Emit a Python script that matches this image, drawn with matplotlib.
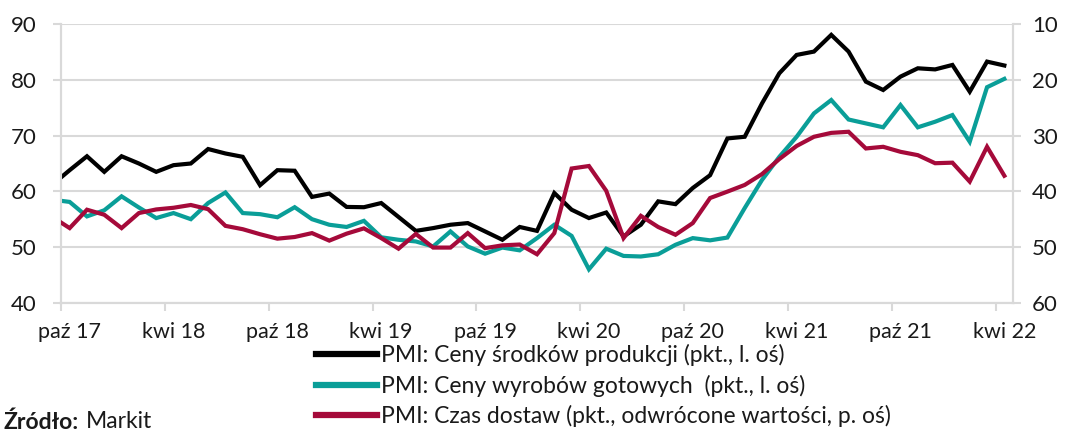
import matplotlib
matplotlib.use("Agg")
import matplotlib.pyplot as plt
import numpy as np
import pandas as pd

# ---- data (monthly, Sep 2017 .. Apr 2022; first point is clipped at left edge) ----
months = pd.date_range("2017-09-01", "2022-04-01", freq="MS")

ceny_srodkow = [61.2, 63.8, 66.3, 63.5, 66.3, 65.0, 63.5, 64.7, 65.0, 67.6,
                66.8, 66.2, 61.1, 63.8, 63.7, 59.0, 59.6, 57.2, 57.15, 57.9,
                55.4, 52.9, 53.4, 54.0, 54.3, 52.8, 51.3, 53.6, 52.9, 59.7,
                56.7, 55.2, 56.2, 51.9, 54.0, 58.2, 57.7, 60.6, 62.9, 69.5,
                69.8, 75.8, 81.2, 84.5, 85.1, 88.1, 85.1, 79.7, 78.2, 80.6,
                82.1, 81.9, 82.7, 77.9, 83.3, 82.6]

ceny_wyrobow = [58.5, 58.1, 55.5, 56.6, 59.1, 57.1, 55.2, 56.1, 55.0, 57.9,
                59.8, 56.1, 55.9, 55.35, 57.15, 55.0, 54.0, 53.6, 54.7, 51.75,
                51.3, 51.0, 50.1, 52.8, 50.1, 48.8, 49.9, 49.4, 51.6, 54.0,
                52.0, 46.0, 49.7, 48.4, 48.3, 48.7, 50.4, 51.6, 51.2, 51.7,
                57.0, 62.05, 66.2, 69.8, 74.0, 76.4, 72.9, 72.2, 71.5, 75.5,
                71.5, 72.5, 73.7, 68.9, 78.7, 80.2]

czas_dostaw = [44.6, 46.6, 43.3, 44.2, 46.6, 43.9, 43.25, 42.95, 42.45, 43.2,
               46.2, 46.8, 47.7, 48.5, 48.2, 47.5, 48.85, 47.6, 46.65, 48.4,
               50.3, 47.65, 50.1, 50.1, 47.5, 50.2, 49.7, 49.55, 51.3, 47.5,
               35.9, 35.45, 39.9, 48.4, 44.4, 46.4, 47.8, 45.7, 41.2, 40.05,
               38.85, 36.9, 34.2, 31.85, 30.2, 29.5, 29.3, 32.3, 32.0, 32.9,
               33.5, 34.95, 34.85, 38.25, 32.0, 37.2]

tick_labels = ["paź 17", "kwi 18", "paź 18", "kwi 19", "paź 19",
               "kwi 20", "paź 20", "kwi 21", "paź 21", "kwi 22"]

labels = ["PMI: Ceny środków produkcji (pkt., l. oś)",
          "PMI: Ceny wyrobów gotowych  (pkt., l. oś)",
          "PMI: Czas dostaw (pkt., odwrócone wartości, p. oś)"]

colors = ["#000000", "#0A9E98", "#A50A3A"]
grid_c = "#D9D9D9"
txt_c = "#1a1a1a"

plt.rcParams["font.family"] = ["Lato", "DejaVu Sans"]
FS_TICK = 15.5
FS_Y = 16.0
FS_LEG = 16.5

W, H = 1066, 433
fig = plt.figure(figsize=(W / 100, H / 100), dpi=100)
left, right, top, bottom = 61, 1013, 24.3, 302.7
ax = fig.add_axes([left / W, 1 - bottom / H, (right - left) / W, (bottom - top) / H])

# x positions: month index relative to Oct 2017, points at mid-month
x = np.arange(len(months)) - 1 + 0.5

l1, = ax.plot(x, ceny_srodkow, color=colors[0], lw=3.0, solid_joinstyle="miter", zorder=3)
l2, = ax.plot(x, ceny_wyrobow, color=colors[1], lw=3.0, solid_joinstyle="miter", zorder=3)
ax.set_xlim(0, 55)
ax.set_ylim(40, 90)
ax.set_yticks(np.arange(40, 91, 10))
ax.grid(axis="y", color=grid_c, lw=1.5, zorder=0)
ax.set_axisbelow(True)

ax2 = ax.twinx()
l3, = ax2.plot(x, czas_dostaw, color=colors[2], lw=3.0, solid_joinstyle="miter", zorder=3)
ax2.set_ylim(60, 10)
ax2.set_yticks(np.arange(10, 61, 10))
ax2.set_xlim(0, 55)

tick_pos = np.arange(0, 55, 6)
for a in (ax, ax2):
    a.spines["top"].set_visible(False)
    for s in ("left", "right", "bottom"):
        a.spines[s].set_color(grid_c)
        a.spines[s].set_linewidth(1.5)

ax.set_xticks(tick_pos)
ax.set_xticklabels([])
ax.set_xticks(tick_pos + 0.5, minor=True)
ax.set_xticklabels(tick_labels, minor=True)
ax.tick_params(axis="x", which="major", length=5.5, width=1.5, color=grid_c, direction="out")
ax.tick_params(axis="x", which="minor", length=0, pad=14, labelsize=FS_TICK, labelcolor=txt_c)
ax.tick_params(axis="y", length=5.8, width=1.5, color=grid_c, pad=12, labelsize=FS_Y, labelcolor=txt_c)
ax2.tick_params(axis="y", length=5.8, width=1.5, color=grid_c, pad=8, labelsize=FS_Y, labelcolor=txt_c)
ax2.tick_params(axis="x", which="both", length=0, labelbottom=False)

leg = fig.legend([l1, l2, l3], labels, loc="upper left",
                 bbox_to_anchor=(316 / W, 1 - 344 / H), frameon=False,
                 fontsize=FS_LEG, handlelength=2.65, handletextpad=0.2,
                 labelspacing=0.37, borderpad=0, borderaxespad=0)
for t in leg.get_texts():
    t.set_color(txt_c)
for h in leg.get_lines():
    h.set_linewidth(4.5)

fig.text(3 / W, 1 - 422 / H, "Źródło:", fontsize=FS_LEG, fontweight="bold", color=txt_c, va="center", ha="left")
fig.text(86 / W, 1 - 422 / H, "Markit", fontsize=FS_LEG, color=txt_c, va="center", ha="left")

fig.savefig("out.png", dpi=100)
